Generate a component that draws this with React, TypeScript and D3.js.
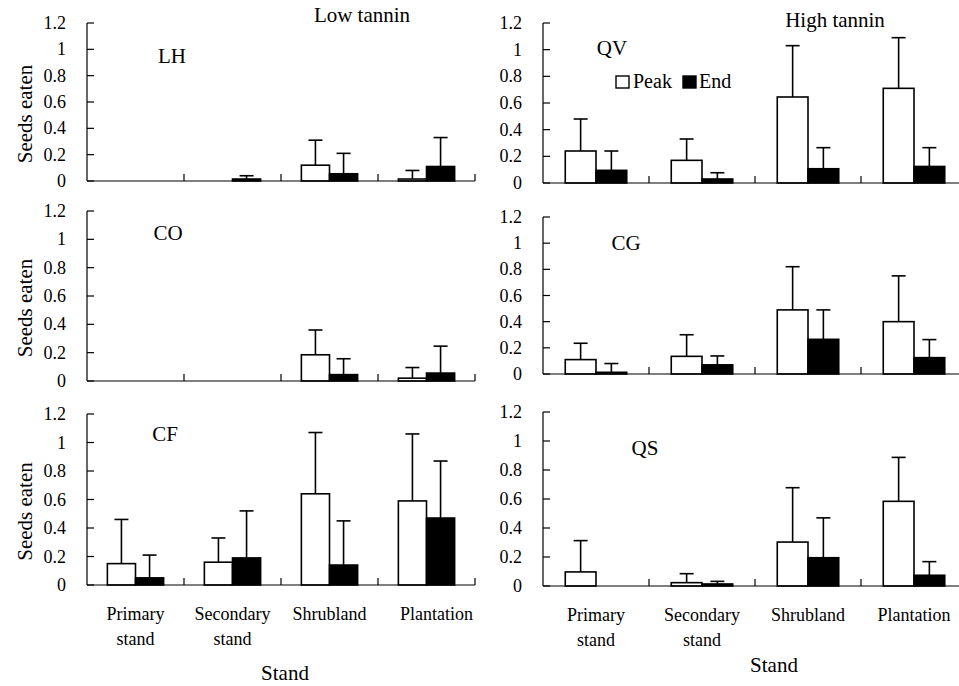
import React from "react";
import * as d3 from "d3";

const categories = ["Primary stand", "Secondary stand", "Shrubland", "Plantation"];
const categoryLines = [["Primary", "stand"], ["Secondary", "stand"], ["Shrubland"], ["Plantation"]];
const yTicks = [0, 0.2, 0.4, 0.6, 0.8, 1, 1.2];
const seriesNames = ["Peak", "End"];

const LH_peak = [0, 0, 0.12, 0.015];
const LH_peakSE = [0, 0, 0.19, 0.065];
const LH_end = [0, 0.015, 0.055, 0.11];
const LH_endSE = [0, 0.025, 0.155, 0.22];

const CO_peak = [0, 0, 0.185, 0.02];
const CO_peakSE = [0, 0, 0.175, 0.075];
const CO_end = [0, 0, 0.045, 0.056];
const CO_endSE = [0, 0, 0.112, 0.19];

const CF_peak = [0.15, 0.16, 0.64, 0.59];
const CF_peakSE = [0.31, 0.17, 0.43, 0.47];
const CF_end = [0.05, 0.19, 0.14, 0.47];
const CF_endSE = [0.16, 0.33, 0.31, 0.4];

const QV_peak = [0.24, 0.17, 0.645, 0.71];
const QV_peakSE = [0.24, 0.16, 0.385, 0.38];
const QV_end = [0.095, 0.03, 0.107, 0.124];
const QV_endSE = [0.145, 0.047, 0.158, 0.141];

const CG_peak = [0.11, 0.135, 0.49, 0.4];
const CG_peakSE = [0.125, 0.165, 0.33, 0.35];
const CG_end = [0.013, 0.07, 0.265, 0.125];
const CG_endSE = [0.067, 0.068, 0.225, 0.138];

const QS_peak = [0.097, 0.023, 0.303, 0.584];
const QS_peakSE = [0.216, 0.062, 0.375, 0.303];
const QS_end = [0, 0.014, 0.195, 0.074];
const QS_endSE = [0, 0.018, 0.275, 0.094];

const FONT = "'Liberation Serif', 'Times New Roman', serif";

type PanelSpec = {
  name: string;
  peak: number[];
  peakSE: number[];
  end: number[];
  endSE: number[];
  x0: number;
  x1: number;
  yTop: number;
  yZero: number;
  labelX: number;
  labelY: number;
  showYTitle: boolean;
  showCats: boolean;
  showLegend: boolean;
};

const panels: PanelSpec[] = [
  { name: "LH", peak: LH_peak, peakSE: LH_peakSE, end: LH_end, endSE: LH_endSE, x0: 87, x1: 475, yTop: 23, yZero: 181, labelX: 172, labelY: 63, showYTitle: true, showCats: false, showLegend: false },
  { name: "CO", peak: CO_peak, peakSE: CO_peakSE, end: CO_end, endSE: CO_endSE, x0: 87, x1: 475, yTop: 211, yZero: 381, labelX: 168, labelY: 240, showYTitle: true, showCats: false, showLegend: false },
  { name: "CF", peak: CF_peak, peakSE: CF_peakSE, end: CF_end, endSE: CF_endSE, x0: 87, x1: 475, yTop: 414, yZero: 585, labelX: 165, labelY: 441, showYTitle: true, showCats: true, showLegend: false },
  { name: "QV", peak: QV_peak, peakSE: QV_peakSE, end: QV_end, endSE: QV_endSE, x0: 543, x1: 967, yTop: 23, yZero: 183, labelX: 612, labelY: 55, showYTitle: false, showCats: false, showLegend: true },
  { name: "CG", peak: CG_peak, peakSE: CG_peakSE, end: CG_end, endSE: CG_endSE, x0: 543, x1: 967, yTop: 217, yZero: 374, labelX: 626, labelY: 250, showYTitle: false, showCats: false, showLegend: false },
  { name: "QS", peak: QS_peak, peakSE: QS_peakSE, end: QS_end, endSE: QS_endSE, x0: 543, x1: 967, yTop: 412, yZero: 586, labelX: 645, labelY: 455, showYTitle: false, showCats: true, showLegend: false },
];

function Panel({ p }: { p: PanelSpec }) {
  const x = d3.scaleBand<string>().domain(categories).range([p.x0, p.x1]).padding(0);
  const y = d3.scaleLinear().domain([0, 1.2]).range([p.yZero, p.yTop]);
  const bw = x.bandwidth() * 0.29;
  const sub = d3.scaleBand<string>().domain(seriesNames).range([0, bw * 2]).padding(0);
  const boundaries = categories.map((c) => (x(c) as number) + x.bandwidth());
  const series = [
    { key: "Peak", vals: p.peak, se: p.peakSE, fill: "#ffffff" },
    { key: "End", vals: p.end, se: p.endSE, fill: "#000000" },
  ];
  const capHalf = 7;
  return (
    <g>
      {/* y axis */}
      <line x1={p.x0} x2={p.x0} y1={y(1.2)} y2={y(0)} stroke="#000" strokeWidth={1.2} />
      {yTicks.map((t) => (
        <g key={t}>
          <line x1={p.x0} x2={p.x0 + 7} y1={y(t)} y2={y(t)} stroke="#000" strokeWidth={1.2} />
          <text x={p.x0 - 21} y={y(t) + 6} textAnchor="end" fontSize={18} fontFamily={FONT} fill="#000">
            {String(t)}
          </text>
        </g>
      ))}
      {/* bars */}
      {series.map((s) =>
        categories.map((c, i) => {
          const bx = (x(c) as number) + x.bandwidth() / 2 - bw + (sub(s.key) as number);
          const v = s.vals[i];
          const top = y(v);
          const cx = bx + bw / 2;
          return (
            <g key={s.key + c}>
              {s.se[i] > 0 && (
                <g>
                  <line x1={cx} x2={cx} y1={top} y2={y(v + s.se[i])} stroke="#000" strokeWidth={1.6} />
                  <line x1={cx - capHalf} x2={cx + capHalf} y1={y(v + s.se[i])} y2={y(v + s.se[i])} stroke="#000" strokeWidth={1.6} />
                </g>
              )}
              <rect x={bx} y={top} width={bw} height={y(0) - top} fill={s.fill} stroke="#000" strokeWidth={1.6} />
            </g>
          );
        })
      )}
      {/* x axis */}
      <line x1={p.x0} x2={p.x1} y1={y(0)} y2={y(0)} stroke="#000" strokeWidth={1.2} />
      {boundaries.map((b, i) => (
        <line key={i} x1={b} x2={b} y1={y(0)} y2={y(0) - 7} stroke="#000" strokeWidth={1.2} />
      ))}
      {/* panel label */}
      <text x={p.labelX} y={p.labelY} textAnchor="middle" fontSize={21} fontFamily={FONT} fill="#000">
        {p.name}
      </text>
      {p.showYTitle && (
        <text
          transform={`translate(32,${(y(0) + y(1.2)) / 2 + 12}) rotate(-90)`}
          textAnchor="middle"
          fontSize={21}
          fontFamily={FONT}
          fill="#000"
        >
          Seeds eaten
        </text>
      )}
      {p.showCats &&
        categories.map((c, i) => (
          <text key={c} textAnchor="middle" fontSize={18} fontFamily={FONT} fill="#000">
            {categoryLines[i].map((ln, j) => (
              <tspan key={j} x={(x(c) as number) + x.bandwidth() / 2 + (i === 3 && p.x0 < 300 ? 10 : 0)} y={y(0) + 35 + j * 25}>
                {ln}
              </tspan>
            ))}
          </text>
        ))}
      {p.showLegend && (
        <g>
          <rect x={616} y={76} width={13} height={12} fill="#fff" stroke="#000" strokeWidth={1.4} />
          <text x={633} y={88} fontSize={20} fontFamily={FONT} fill="#000">{seriesNames[0]}</text>
          <rect x={683} y={76} width={13} height={12} fill="#000" stroke="#000" strokeWidth={1.4} />
          <text x={699} y={88} fontSize={20} fontFamily={FONT} fill="#000">{seriesNames[1]}</text>
        </g>
      )}
    </g>
  );
}

export default function App() {
  return (
    <svg width={959} height={686} style={{ position: "absolute", left: 0, top: 0, background: "#fff" }}>
      <rect x={0} y={0} width={959} height={686} fill="#fff" />
      {panels.map((p) => (
        <Panel key={p.name} p={p} />
      ))}
      <text x={362} y={22} textAnchor="middle" fontSize={21} fontFamily={FONT} fill="#000">Low tannin</text>
      <text x={835} y={27} textAnchor="middle" fontSize={21} fontFamily={FONT} fill="#000">High tannin</text>
      <text x={285} y={680} textAnchor="middle" fontSize={21} fontFamily={FONT} fill="#000">Stand</text>
      <text x={774} y={672} textAnchor="middle" fontSize={21} fontFamily={FONT} fill="#000">Stand</text>
    </svg>
  );
}
